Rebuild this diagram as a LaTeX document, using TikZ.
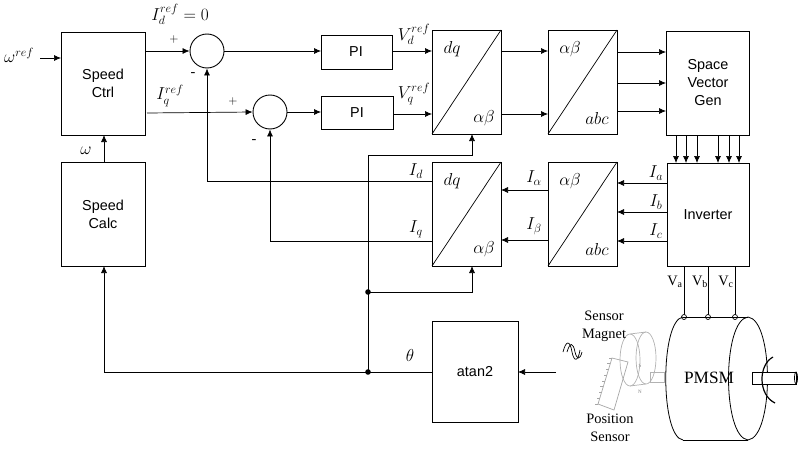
\documentclass[tikz,border=0pt]{standalone}
\usepackage{fontspec}
\setmainfont{Liberation Serif}
\newfontfamily\sansf{Liberation Sans}
\usetikzlibrary{arrows.meta,calc}
\begin{document}
\begin{tikzpicture}[x=1pt,y=-1pt,
  lbl/.style={font=\sansf\Large,align=center,inner sep=1pt},
  m/.style={font=\LARGE},
  ar/.style={-{Latex[length=7pt,width=6pt]}}]
\useasboundingbox (0,0) rectangle (800,460);
\tikzset{every path/.style={line width=0.7pt}}
% boxes
\draw[thick] (61,32) rectangle (145,135); \node[lbl] (sc) at (103,83) {Speed\\Ctrl};
\draw[thick] (61,162) rectangle (145,266); \node[lbl] (scl) at (103,214) {Speed\\Calc};
\draw[thick] (321,35) rectangle (392,69); \node[lbl] (pi1) at (356,52) {PI};
\draw[thick] (321,96) rectangle (393,129); \node[lbl] (pi2) at (357,113) {PI};
\draw[thick] (432,30) rectangle (501,134); \draw (432,134)--(501,30);
\node[m] at (452,49) {$dq$}; \node[m] at (484,118) {$\alpha\beta$};
\draw[thick] (548,30) rectangle (617,134); \draw (548,134)--(617,30);
\node[m] at (570,49) {$\alpha\beta$}; \node[m] at (597,118) {$abc$};
\draw[thick] (432,162) rectangle (501,266); \draw (432,266)--(501,162);
\node[m] at (452,181) {$dq$}; \node[m] at (484,249) {$\alpha\beta$};
\draw[thick] (548,162) rectangle (617,266); \draw (548,266)--(617,162);
\node[m] at (570,181) {$\alpha\beta$}; \node[m] at (597,249) {$abc$};
\draw[thick] (666,31) rectangle (749,135); \node[lbl] (svg) at (708,83) {Space\\Vector\\Gen};
\draw[thick] (667,163) rectangle (749,266); \node[lbl] (inv) at (708,215) {Inverter};
\draw[thick] (432,321) rectangle (518,422); \node[lbl] (at) at (475,372) {atan2};
\node[draw,circle,minimum size=34pt,inner sep=0pt,line width=0.9pt] (s1) at (207,51) {};
\node[draw,circle,minimum size=34pt,inner sep=0pt,line width=0.9pt] (s2) at (270,112) {};
% signals
\draw[ar] (40,58) -- (61,58); \node[m] at (19,55) {$\omega^{ref}$};
\draw[ar] (145,51) -- (s1.west); \node[font=\large] at (174,40) {$+$};
\node[m] at (180,14) {$I_d^{ref}=0$};
\draw[ar] (147,113) -- (s2.west); \node[font=\large] at (233,101) {$+$};
\node[m] at (170,96) {$I_q^{ref}$};
\node[font=\Large] at (193,75) {-}; \node[font=\Large] at (254,142) {-};
\draw[ar] (s1.east) -- (321,51);
\draw[ar] (s2.east) -- (321,112);
\draw[ar] (392,51) -- (432,51); \node[m] at (414,34) {$V_d^{ref}$};
\draw[ar] (393,114) -- (432,114); \node[m] at (414,94) {$V_q^{ref}$};
\draw[ar] (501,51) -- (548,51); \draw[ar] (501,114) -- (548,114);
\foreach \y in {52,83,111} \draw[ar] (617,\y) -- (666,\y);
\foreach \x in {676,686,697,718,729,739} \draw[ar] (\x,135) -- (\x,163);
\draw[ar] (667,183) -- (617,183); \node[m] at (656,173) {$I_a$};
\draw[ar] (667,212) -- (617,212); \node[m] at (656,202) {$I_b$};
\draw[ar] (667,241) -- (617,241); \node[m] at (656,231) {$I_c$};
\draw[ar] (548,190) -- (501,190); \node[m] at (534,178) {$I_\alpha$};
\draw[ar] (548,240) -- (501,240); \node[m] at (534,226) {$I_\beta$};
\draw[ar] (432,181) -- (207,181) -- (s1.south); \node[m] at (416,171) {$I_d$};
\draw[ar] (432,241) -- (270,241) -- (s2.south); \node[m] at (416,229) {$I_q$};
\draw[ar] (104,162) -- (104,135); \node[m] at (86,151) {$\omega$};
\draw[ar] (368,155) -- (472,155) -- (472,134);
\draw[ar] (368,292) -- (472,292) -- (472,266);
\draw (368,155) -- (368,372);
\fill (368,292) circle (2.8); \fill (368,372) circle (2.8);
\draw[ar] (432,372) -- (104,372) -- (104,266);
\node[m] at (410,355) {$\theta$};
\draw[ar] (556,372) -- (518,372);
\draw (563,352) .. controls (566,340) and (570,340) .. (572,352) .. controls (574,362) and (578,362) .. (580,350);
\draw (567,352) .. controls (570,342) and (573,342) .. (575,352) .. controls (577,360) and (580,360) .. (582,352);
% motor
\foreach \x in {684,708,735}{
  \draw (\x,266) -- (\x,316); \draw[fill=white] (\x,317) circle (2.5);}
\node[font=\Large] at (675,282) {V$_\mathrm{a}$}; \node[font=\Large] at (700,282) {V$_\mathrm{b}$}; \node[font=\Large] at (726,282) {V$_\mathrm{c}$};
\draw[thick] (683,317) -- (748,317); \draw[thick] (683,440) -- (748,440);
\draw[thick] (683,317) .. controls (660,320) and (660,437) .. (683,440);
\draw[thick] (748,317) .. controls (722,320) and (722,437) .. (748,440);
\draw[thick] (748,317) .. controls (774,320) and (774,437) .. (748,440);
\node[font=\LARGE] at (709,378) {PMSM};
\draw[fill=white] (752,372) rectangle (796,384); \draw (796,378) ellipse (1.5 and 6);
\draw[line width=1.2pt] (773,357) .. controls (758,365) and (758,395) .. (775,403);
% sensor
\draw[gray!60] (646,358) ellipse (10 and 26); \draw[gray!60] (630,360) ellipse (10 and 26);
\draw[gray!60] (630,334) -- (646,332); \draw[gray!60] (630,386) -- (646,384);
\draw[gray!60] (650,372) rectangle (664,382);
\node[gray,font=\tiny] at (640,366) {S}; \node[gray,font=\tiny] at (640,392) {N};
\draw[gray!70] (612,358) -- (628,362) -- (614,410) -- (598,404) -- cycle;
\foreach \i in {0,...,8} \draw[gray!70] ($(612,358)!{\i/8}!(598,404)$) -- ++(-3,0);
\node[align=center,font=\Large,inner sep=0pt] at (604,326) {Sensor\\Magnet};
\node[align=center,font=\Large,inner sep=0pt] at (610,428) {Position\\Sensor};
\end{tikzpicture}
\end{document}
